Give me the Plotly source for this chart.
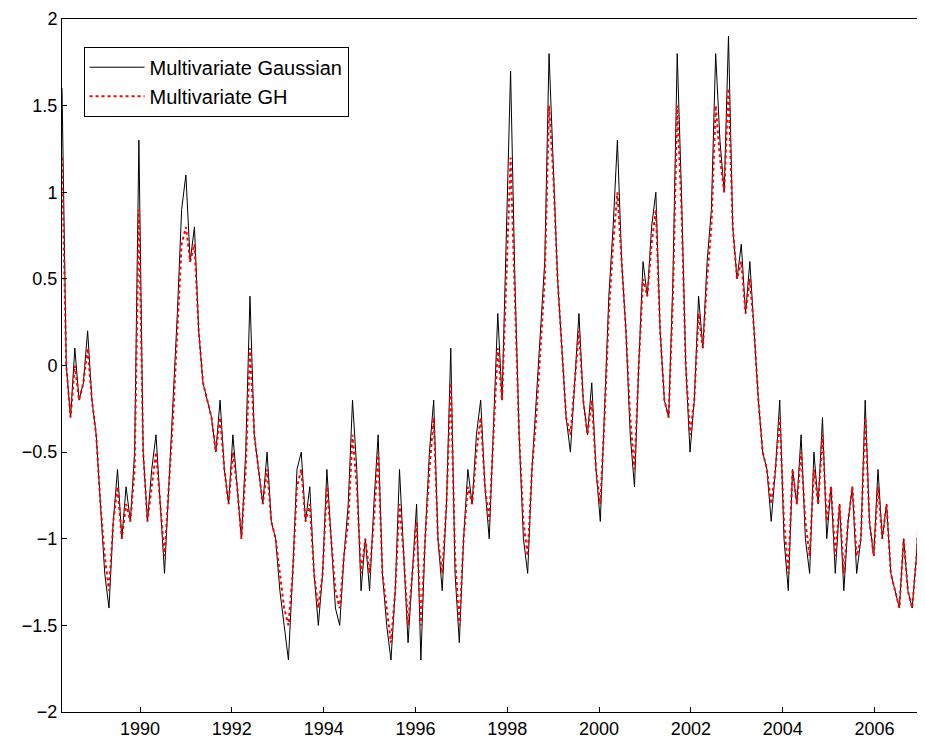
import numpy as np
import plotly.graph_objects as go

gaussian = [
    1.6, 0.0, -0.3, 0.1, -0.2, -0.1, 0.2, -0.2, -0.4, -0.8,
    -1.2, -1.4, -0.9, -0.6, -1.0, -0.7, -0.9, -0.5, 1.3, -0.5,
    -0.9, -0.6, -0.4, -0.8, -1.2, -0.7, -0.2, 0.3, 0.9, 1.1,
    0.6, 0.8, 0.2, -0.1, -0.2, -0.3, -0.5, -0.2, -0.6, -0.8,
    -0.4, -0.7, -1.0, -0.5, 0.4, -0.4, -0.6, -0.8, -0.5, -0.9,
    -1.0, -1.3, -1.5, -1.7, -1.2, -0.6, -0.5, -0.9, -0.7, -1.2,
    -1.5, -1.2, -0.6, -1.0, -1.4, -1.5, -1.1, -0.8, -0.2, -0.6,
    -1.3, -1.0, -1.3, -0.8, -0.4, -1.2, -1.5, -1.7, -1.3, -0.6,
    -1.1, -1.6, -1.2, -0.8, -1.7, -1.0, -0.5, -0.2, -1.0, -1.3,
    -0.8, 0.1, -1.2, -1.6, -1.0, -0.6, -0.8, -0.4, -0.2, -0.7,
    -1.0, -0.3, 0.3, -0.2, 0.7, 1.7, 0.5, -0.4, -1.0, -1.2,
    -0.6, -0.2, 0.2, 0.6, 1.8, 1.2, 0.5, 0.1, -0.3, -0.5,
    -0.1, 0.3, -0.2, -0.4, -0.1, -0.6, -0.9, -0.3, 0.4, 0.8,
    1.3, 0.6, 0.2, -0.4, -0.7, 0.0, 0.6, 0.4, 0.8, 1.0,
    0.2, -0.2, -0.3, 0.5, 1.8, 1.0, 0.0, -0.5, -0.2, 0.4,
    0.1, 0.6, 0.9, 1.8, 1.3, 1.0, 1.9, 0.8, 0.5, 0.7,
    0.3, 0.6, 0.2, -0.2, -0.5, -0.6, -0.9, -0.6, -0.2, -1.0,
    -1.3, -0.6, -0.8, -0.4, -1.0, -1.2, -0.5, -0.8, -0.3, -1.0,
    -0.7, -1.2, -0.8, -1.3, -0.9, -0.7, -1.2, -1.0, -0.2, -0.9,
    -1.1, -0.6, -1.0, -0.8, -1.2, -1.3, -1.4, -1.0, -1.3, -1.4,
    -1.1, -0.6, 0.5,
]

gh = [
    1.2, 0.0, -0.3, 0.0, -0.2, -0.1, 0.1, -0.2, -0.4, -0.8,
    -1.1, -1.3, -0.9, -0.7, -1.0, -0.8, -0.9, -0.6, 0.9, -0.5,
    -0.9, -0.7, -0.5, -0.8, -1.1, -0.7, -0.3, 0.2, 0.7, 0.8,
    0.6, 0.7, 0.2, -0.1, -0.2, -0.3, -0.5, -0.3, -0.6, -0.8,
    -0.5, -0.7, -1.0, -0.6, 0.1, -0.4, -0.6, -0.8, -0.6, -0.9,
    -1.0, -1.2, -1.4, -1.5, -1.2, -0.7, -0.6, -0.9, -0.8, -1.2,
    -1.4, -1.2, -0.7, -1.0, -1.3, -1.4, -1.1, -0.9, -0.4, -0.7,
    -1.2, -1.0, -1.2, -0.9, -0.5, -1.2, -1.4, -1.6, -1.3, -0.8,
    -1.1, -1.5, -1.2, -0.9, -1.5, -1.0, -0.6, -0.3, -1.0, -1.2,
    -0.8, -0.1, -1.1, -1.5, -1.0, -0.7, -0.8, -0.5, -0.3, -0.7,
    -0.9, -0.4, 0.1, -0.2, 0.5, 1.2, 0.4, -0.4, -0.9, -1.1,
    -0.6, -0.3, 0.1, 0.5, 1.5, 1.1, 0.5, 0.1, -0.3, -0.4,
    -0.1, 0.2, -0.2, -0.4, -0.2, -0.6, -0.8, -0.3, 0.3, 0.7,
    1.0, 0.6, 0.2, -0.3, -0.6, 0.0, 0.5, 0.4, 0.7, 0.9,
    0.2, -0.2, -0.3, 0.4, 1.5, 0.9, 0.0, -0.4, -0.2, 0.3,
    0.1, 0.5, 0.8, 1.5, 1.2, 1.0, 1.6, 0.8, 0.5, 0.6,
    0.3, 0.5, 0.2, -0.2, -0.5, -0.6, -0.8, -0.6, -0.3, -0.9,
    -1.2, -0.6, -0.8, -0.5, -0.9, -1.1, -0.6, -0.8, -0.4, -0.9,
    -0.7, -1.1, -0.8, -1.2, -0.9, -0.7, -1.1, -1.0, -0.3, -0.9,
    -1.1, -0.7, -1.0, -0.8, -1.2, -1.3, -1.4, -1.0, -1.3, -1.4,
    -1.1, -0.7, 0.4,
]

t = np.linspace(1988.3, 2007.1, len(gaussian))

x_ticks = [1990, 1992, 1994, 1996, 1998, 2000, 2002, 2004, 2006]
y_ticks = [-2, -1.5, -1, -0.5, 0, 0.5, 1, 1.5, 2]
y_labels = ["\u22122", "\u22121.5", "\u22121", "\u22120.5", "0", "0.5", "1", "1.5", "2"]

fig = go.Figure()
fig.add_trace(go.Scatter(x=t, y=gaussian, mode="lines", name="Multivariate Gaussian",
                         line=dict(color="black", width=1)))
fig.add_trace(go.Scatter(x=t, y=gh, mode="lines", name="Multivariate GH",
                         line=dict(color="red", width=2, dash="dot")))

axis_style = dict(showgrid=False, zeroline=False, showline=True, linecolor="black",
                  linewidth=1, mirror=True, ticks="inside", ticklen=5, tickcolor="black",
                  automargin=False)
fig.update_xaxes(range=[1988.3, 2007.1], tickvals=x_ticks, **axis_style)
fig.update_yaxes(range=[-2, 2], tickvals=y_ticks, ticktext=y_labels, **axis_style)
fig.update_layout(
    width=925, height=747,
    margin=dict(l=54, r=8, t=11, b=43),
    plot_bgcolor="white", paper_bgcolor="white",
    font=dict(family="Liberation Sans, Arial", size=18, color="black"),
    legend=dict(x=0.025, y=0.96, xanchor="left", yanchor="top",
                bordercolor="black", borderwidth=1, bgcolor="white",
                itemwidth=55, tracegroupgap=0, font=dict(size=20)),
)
fig.write_html("out.html")
